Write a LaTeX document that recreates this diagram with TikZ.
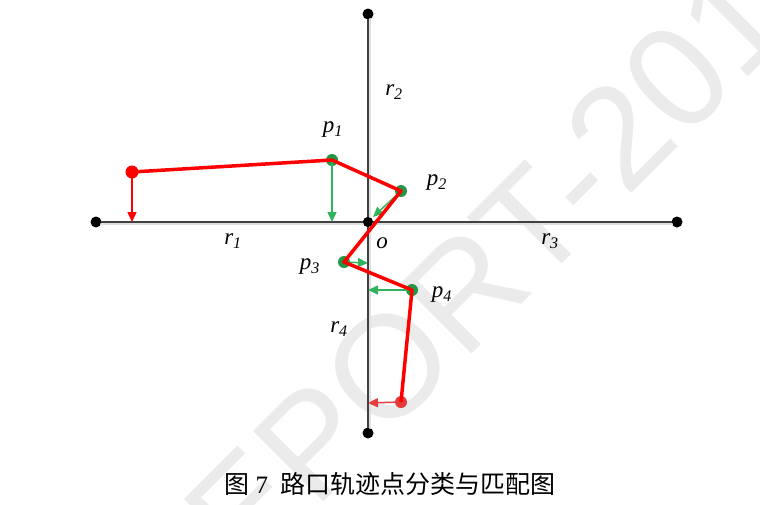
\documentclass[tikz,border=0pt]{standalone}
\usepackage{fontspec}
\setmainfont{Liberation Serif}
\newfontfamily\cjk{Noto Sans CJK SC}
\newfontfamily\markfont{Liberation Sans}
\usetikzlibrary{arrows.meta}

\definecolor{dotgreen}{RGB}{34,150,70}
\definecolor{arrowgreen}{RGB}{50,180,95}
\definecolor{trackred}{RGB}{255,0,0}
\definecolor{endred}{RGB}{228,60,60}
\definecolor{axisgray}{RGB}{64,64,64}

\newcommand{\sym}[2]{\textit{#1\textsubscript{#2}}}

\begin{document}
\begin{tikzpicture}[x=1pt,y=-1pt,>={Triangle[length=10pt,width=9pt]},
					every node/.style = {inner sep=0pt}]

\tikzstyle{axis_line} = [draw=axisgray,line width=2pt]
\tikzstyle{axis_shadow} = [draw=black!12,line width=2.5pt]
\tikzstyle{end_dot} = [circle,fill=black,minimum size=11pt]
\tikzstyle{track_dot} = [circle,minimum size=12pt]
\tikzstyle{track} = [draw=trackred,line width=3.5pt,line join=round]
\tikzstyle{proj} = [->,line width=1.5pt]
\tikzstyle{sym_label} = [font=\fontsize{23}{26}\selectfont]

\useasboundingbox (0,0) rectangle (760,504);

% watermark
\begin{scope}
\clip (0,0) rectangle (760,504);
\node[rotate=45,text=black!8,font=\fontsize{145}{145}\markfont] (mark) at (450,305) {REPORT-201};
\end{scope}

% roads
\node[end_dot] (r1end) at (96,222) {};
\node[end_dot] (r2end) at (368,14) {};
\node[end_dot] (r3end) at (677,222) {};
\node[end_dot] (r4end) at (368,433) {};
\node[end_dot,minimum size=10pt] (o) at (368,222) {};
\draw[axis_shadow] ([shift={(2,2)}]r1end.center) -- ([shift={(2,2)}]r3end.center);
\draw[axis_shadow] ([shift={(2,2)}]r2end.center) -- ([shift={(2,2)}]r4end.center);
\draw[axis_line] (r1end.center) -- (r3end.center);
\draw[axis_line] (r2end.center) -- (r4end.center);
\foreach \n in {r1end,r2end,r3end,r4end,o}
	\node[end_dot,minimum size=10pt] at (\n) {};

% trajectory points
\node[track_dot,fill=trackred,minimum size=13pt] (start) at (132,172) {};
\node[track_dot,fill=dotgreen] (p1) at (332,160) {};
\node[track_dot,fill=dotgreen] (p2) at (401,191) {};
\node[track_dot,fill=dotgreen] (p3) at (344,262) {};
\node[track_dot,fill=dotgreen] (p4) at (412,290) {};
\node[track_dot,fill=endred] (stop) at (401,402) {};

% projections on the roads
\coordinate (q0) at (132,222);
\coordinate (q1) at (332,222);
\coordinate (q2) at (373,217);
\coordinate (q3) at (368,263);
\coordinate (q4) at (368,290);
\coordinate (q5) at (368,403);

\draw[proj,trackred] (start.center) -- (q0);
\draw[proj,arrowgreen] (p1.center) -- (q1);
\draw[proj,arrowgreen] (p2.center) -- (q2);
\draw[proj,arrowgreen] (p3.center) -- (q3);
\draw[proj,arrowgreen] (p4.center) -- (q4);
\draw[proj,endred] (stop.center) -- (q5);

\draw[track] (start.center) -- (p1.center) -- (p2.center) -- (p3.center)
	-- (p4.center) -- (stop.center);

% labels
\node[sym_label] (lr1) at (233,241) {\sym{r}{1}};
\node[sym_label] (lr2) at (394,92) {\sym{r}{2}};
\node[sym_label] (lr3) at (550,241) {\sym{r}{3}};
\node[sym_label] (lr4) at (339,329) {\sym{r}{4}};
\node[sym_label] (lo) at (382,243) {\textit{o}};
\node[sym_label] (lp1) at (333,130) {\sym{p}{1}};
\node[sym_label] (lp2) at (437,183) {\sym{p}{2}};
\node[sym_label] (lp3) at (310,267) {\sym{p}{3}};
\node[sym_label] (lp4) at (442,295) {\sym{p}{4}};

\node[font=\fontsize{25}{28}\selectfont] (caption) at (390,484)
	{{\cjk 图}~7~~{\cjk 路口轨迹点分类与匹配图}};
\end{tikzpicture}
\end{document}
